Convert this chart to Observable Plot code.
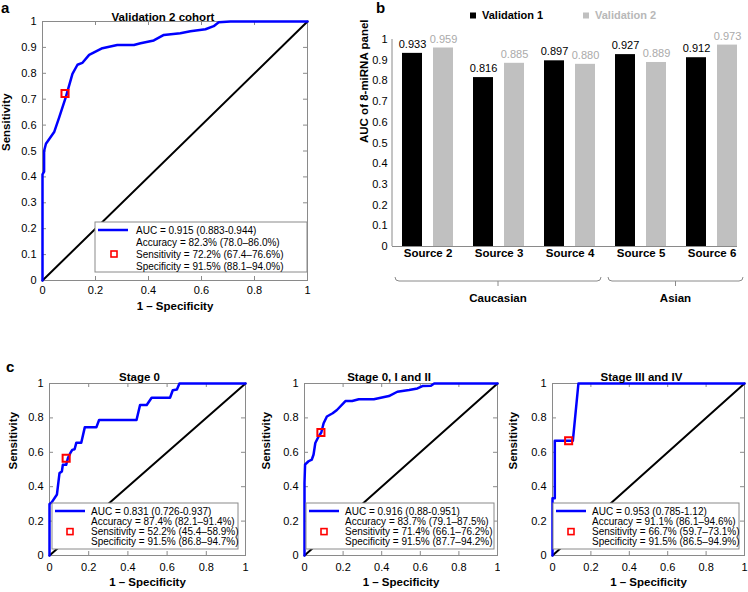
<!DOCTYPE html>
<html><head><meta charset="utf-8">
<script src="https://cdn.jsdelivr.net/npm/d3@7"></script>
<script src="https://cdn.jsdelivr.net/npm/@observablehq/plot@0.6"></script>
<style>
body{margin:0;background:#fff;}
#root{position:relative;width:748px;height:592px;overflow:hidden;background:#fff;font-family:"Liberation Sans",Arial,sans-serif;}
.panel{position:absolute;}
.panel svg{display:block;}
#tags{position:absolute;left:0;top:0;pointer-events:none;}
</style></head><body><div id="root"></div>
<script>
// ---------- DATA ----------
// Panel a: Validation 2 cohort ROC (1 - specificity, sensitivity)
const valid2FPR = [0, 0, 0.006, 0.006, 0.013, 0.044, 0.063, 0.088, 0.113, 0.132, 0.15, 0.176, 0.226, 0.282, 0.345, 0.37, 0.42, 0.458, 0.52, 0.558, 0.615, 0.646, 0.665, 0.709, 1];
const valid2TPR = [0, 0.41, 0.42, 0.50, 0.528, 0.573, 0.63, 0.708, 0.798, 0.833, 0.84, 0.871, 0.897, 0.909, 0.909, 0.916, 0.927, 0.948, 0.955, 0.962, 0.970, 0.982, 0.997, 1, 1];
const valid2Cut = [0.085, 0.722];
const valid2Legend = ["AUC = 0.915 (0.883-0.944)", "Accuracy = 82.3% (78.0–86.0%)", "Sensitivity = 72.2% (67.4–76.6%)", "Specificity = 91.5% (88.1–94.0%)"];

// Panel c: Stage 0
const stage0FPR = [0, 0, 0.012, 0.038, 0.051, 0.063, 0.068, 0.085, 0.094, 0.106, 0.116, 0.128, 0.137, 0.162, 0.18, 0.239, 0.253, 0.444, 0.462, 0.496, 0.521, 0.615, 0.629, 0.65, 0.663, 1];
const stage0TPR = [0, 0.30, 0.31, 0.355, 0.479, 0.488, 0.527, 0.527, 0.566, 0.595, 0.614, 0.618, 0.656, 0.656, 0.745, 0.745, 0.788, 0.788, 0.875, 0.875, 0.917, 0.917, 0.961, 0.965, 1, 1];
const stage0Cut = [0.085, 0.565];
const stage0Legend = ["AUC = 0.831 (0.726-0.937)", "Accuracy = 87.4% (82.1–91.4%)", "Sensitivity = 52.2% (45.4–58.9%)", "Specificity = 91.5% (86.8–94.7%)"];

// Panel c: Stage 0, I and II
const earlyFPR = [0, 0, 0.003, 0.021, 0.038, 0.047, 0.056, 0.073, 0.087, 0.099, 0.116, 0.146, 0.168, 0.212, 0.247, 0.281, 0.359, 0.4375, 0.481, 0.542, 0.585, 0.611, 0.655, 0.672, 1];
const earlyTPR = [0, 0.423, 0.529, 0.548, 0.558, 0.587, 0.654, 0.692, 0.715, 0.769, 0.808, 0.827, 0.846, 0.898, 0.898, 0.908, 0.908, 0.927, 0.952, 0.962, 0.971, 0.985, 0.987, 1, 1];
const earlyCut = [0.085, 0.715];
const earlyLegend = ["AUC = 0.916 (0.88-0.951)", "Accuracy = 83.7% (79.1–87.5%)", "Sensitivity = 71.4% (66.1–76.2%)", "Specificity = 91.5% (87.7–94.2%)"];

// Panel c: Stage III and IV
const lateFPR = [0, 0, 0.012, 0.012, 0.106, 0.135, 1];
const lateTPR = [0, 0.333, 0.333, 0.667, 0.667, 1, 1];
const lateCut = [0.084, 0.667];
const lateLegend = ["AUC = 0.953 (0.785-1.12)", "Accuracy = 91.1% (86.1–94.6%)", "Sensitivity = 66.7% (59.7–73.1%)", "Specificity = 91.5% (86.5–94.9%)"];

const diagonal = [0, 1];
const rocXTicks = [0, 0.2, 0.4, 0.6, 0.8, 1];
const rocYTicksA = [0, 0.1, 0.2, 0.3, 0.4, 0.5, 0.6, 0.7, 0.8, 0.9, 1];
const rocYTicksC = [0, 0.2, 0.4, 0.6, 0.8, 1];

// Panel b: AUC of 8-miRNA panel by source
const sources = ["Source 2", "Source 3", "Source 4", "Source 5", "Source 6"];
const series = ["Validation 1", "Validation 2"];
const aucValidation1 = [0.933, 0.816, 0.897, 0.927, 0.912];
const aucValidation2 = [0.959, 0.885, 0.880, 0.889, 0.973];
const barYTicks = [0, 0.1, 0.2, 0.3, 0.4, 0.5, 0.6, 0.7, 0.8, 0.9, 1];
const ethnicGroups = ["Caucasian", "Asian"];
const ethnicFrom = ["Source 2", "Source 5"];
const ethnicTo = ["Source 4", "Source 6"];

// ---------- DRAWING ----------
const FONT = "Liberation Sans, Arial, Helvetica, sans-serif";
const GREY = "#8a8a8a";
const fmt = d => String(d);
const root = document.getElementById("root");

function place(el, left, top) {
  const div = document.createElement("div");
  div.className = "panel";
  div.style.left = left + "px";
  div.style.top = top + "px";
  div.appendChild(el);
  root.appendChild(div);
  return el;
}

function rocPanel(o) {
  const pts = o.fpr.map((x, i) => ({x, y: o.tpr[i]}));
  const cut = [{x: o.cut[0], y: o.cut[1]}];
  const w = o.width - o.ml - o.mr, h = o.height - o.mt - o.mb;
  const svg = Plot.plot({
    width: o.width, height: o.height,
    marginLeft: o.ml, marginRight: o.mr, marginTop: o.mt, marginBottom: o.mb,
    style: {fontFamily: FONT, fontSize: "11px", color: "#000", background: "transparent"},
    x: {domain: [0, 1], ticks: rocXTicks, tickFormat: fmt, tickSize: 0, tickPadding: o.xPad, label: null},
    y: {domain: [0, 1], ticks: o.yTicks, tickFormat: fmt, tickSize: 0, tickPadding: 6, label: null},
    marks: [
      Plot.tickX(rocXTicks, {x: d => d, insetTop: h - 4, stroke: GREY}),
      Plot.tickX(rocXTicks, {x: d => d, insetBottom: h - 4, stroke: GREY}),
      Plot.tickY(o.yTicks, {y: d => d, insetRight: w - 4, stroke: GREY}),
      Plot.tickY(o.yTicks, {y: d => d, insetLeft: w - 4, stroke: GREY}),
      Plot.frame({stroke: GREY}),
      Plot.line(diagonal, {x: d => d, y: d => d, stroke: "#000", strokeWidth: 2}),
      Plot.line(pts, {x: "x", y: "y", stroke: "#0000ff", strokeWidth: 2.5}),
      Plot.dot(cut, {x: "x", y: "y", symbol: "square", r: 4, stroke: "#ff0000", strokeWidth: 2, fill: "none"}),
      Plot.text([o.title], {text: d => d, frameAnchor: "top", dy: o.titleDy, dx: o.titleDx, fontWeight: "bold", fontSize: 11.5}),
      Plot.text(["1 – Specificity"], {text: d => d, frameAnchor: "bottom", dy: o.xLabelDy, fontWeight: "bold", fontSize: 11.5}),
      Plot.text(["Sensitivity"], {text: d => d, frameAnchor: "left", dx: o.yLabelDx, rotate: -90, fontWeight: "bold", fontSize: 11.5})
    ]
  });
  // legend box
  const L = o.legendBox;
  const g = d3.select(svg).append("g").attr("font-family", FONT).attr("font-size", 10).attr("text-anchor", "start");
  g.append("rect").attr("x", L.x).attr("y", L.y).attr("width", L.w).attr("height", L.h)
    .attr("fill", "#fff").attr("stroke", GREY).attr("stroke-width", 1);
  g.append("line").attr("x1", L.x + 3).attr("x2", L.x + 33).attr("y1", L.y + 8).attr("y2", L.y + 8)
    .attr("stroke", "#0000ff").attr("stroke-width", 2.5);
  o.legend.forEach((t, i) => {
    g.append("text").attr("x", L.x + L.tx).attr("y", L.y + 8 + i * L.gap).attr("dy", "0.35em")
      .attr("text-anchor", "start").attr("fill", "#000").text(t);
  });
  g.append("rect").attr("x", L.x + L.sq - 3).attr("y", L.y + 8 + 2 * L.gap - 3).attr("width", 6).attr("height", 6)
    .attr("fill", "#fff").attr("stroke", "#ff0000").attr("stroke-width", 1.6);
  return svg;
}

// Panel a
place(rocPanel({
  fpr: valid2FPR, tpr: valid2TPR, cut: valid2Cut, legend: valid2Legend, title: "Validation 2 cohort",
  width: 330, height: 320, ml: 42, mr: 23, mt: 21, mb: 40, yTicks: rocYTicksA, xPad: 6,
  titleDy: -9, titleDx: -12, xLabelDy: 29, yLabelDx: -36,
  legendBox: {x: 95, y: 222, w: 212, h: 50, tx: 41, sq: 19, gap: 12}
}), 0, 0);

// Panel c
place(rocPanel({
  fpr: stage0FPR, tpr: stage0TPR, cut: stage0Cut, legend: stage0Legend, title: "Stage 0",
  width: 250, height: 252, ml: 49, mr: 5, mt: 43, mb: 37, yTicks: rocYTicksC, xPad: 8,
  titleDy: -11, titleDx: -8, xLabelDy: 30, yLabelDx: -36,
  legendBox: {x: 52, y: 163, w: 186, h: 46, tx: 39, sq: 18, gap: 10.3}
}), 0, 340);
place(rocPanel({
  fpr: earlyFPR, tpr: earlyTPR, cut: earlyCut, legend: earlyLegend, title: "Stage 0, I and II",
  width: 250, height: 252, ml: 54, mr: 3, mt: 43, mb: 37, yTicks: rocYTicksC, xPad: 8,
  titleDy: -11, titleDx: -12, xLabelDy: 30, yLabelDx: -38,
  legendBox: {x: 56, y: 163, w: 188, h: 46, tx: 39, sq: 18, gap: 10.3}
}), 250, 340);
place(rocPanel({
  fpr: lateFPR, tpr: lateTPR, cut: lateCut, legend: lateLegend, title: "Stage III and IV",
  width: 248, height: 252, ml: 52, mr: 4, mt: 43, mb: 37, yTicks: rocYTicksC, xPad: 8,
  titleDy: -11, titleDx: -7, xLabelDy: 30, yLabelDx: -39,
  legendBox: {x: 53, y: 163, w: 186, h: 46, tx: 39, sq: 18, gap: 10.3}
}), 500, 340);

// Panel b
const barRows = sources.flatMap((s, i) => [
  {source: s, series: series[0], value: aucValidation1[i]},
  {source: s, series: series[1], value: aucValidation2[i]}
]);
const rows1 = barRows.filter(d => d.series === series[0]);
const rows2 = barRows.filter(d => d.series === series[1]);
const B = {width: 390, height: 320, ml: 34, mr: 1, mt: 39, mb: 74};
const barChart = Plot.plot({
  width: B.width, height: B.height,
  marginLeft: B.ml, marginRight: B.mr, marginTop: B.mt, marginBottom: B.mb,
  style: {fontFamily: FONT, fontSize: "11px", color: "#000", background: "transparent"},
  x: {domain: sources, padding: 0, axis: null},
  y: {domain: [0, 1], ticks: barYTicks, tickFormat: fmt, tickSize: 0, tickPadding: 5, label: null},
  marks: [
    Plot.barY(rows1, {x: "source", y: "value", fill: "#000", insetLeft: 10, insetRight: 41}),
    Plot.barY(rows2, {x: "source", y: "value", fill: "#c0c0c0", insetLeft: 41, insetRight: 10}),
    Plot.text(rows1, {x: "source", y: "value", text: d => d.value.toFixed(3), dx: -15.5, dy: -9, fill: "#000", fontSize: 11}),
    Plot.text(rows2, {x: "source", y: "value", text: d => d.value.toFixed(3), dx: 15.5, dy: -9, fill: "#aaaaaa", fontSize: 11}),
    Plot.ruleY([0], {stroke: GREY, insetRight: 10}),
    Plot.text(sources, {x: d => d, text: d => d, frameAnchor: "bottom", dy: 10, fontWeight: "bold", fontSize: 11.5}),
    Plot.text(["AUC of 8-miRNA panel"], {text: d => d, frameAnchor: "left", dx: -28, rotate: -90, fontWeight: "bold", fontSize: 11.5})
  ]
});
place(barChart, 358, 0);
{
  const svg = d3.select(barChart);
  const xs = barChart.scale("x");
  const bw = xs.bandwidth;
  // y axis line
  svg.append("line").attr("x1", B.ml).attr("x2", B.ml).attr("y1", B.mt).attr("y2", B.height - B.mb)
    .attr("stroke", GREY).attr("stroke-width", 1);
  // legend
  const lg = svg.append("g").attr("font-family", FONT).attr("font-size", 11).attr("font-weight", "bold").attr("text-anchor", "start");
  [[series[0], "#000", "#000", 112], [series[1], "#c0c0c0", "#b8b8b8", 225]].forEach(([name, c, tc, x]) => {
    lg.append("rect").attr("x", x).attr("y", 12.5).attr("width", 6).attr("height", 6).attr("fill", c);
    lg.append("text").attr("x", x + 12).attr("y", 15.5).attr("dy", "0.35em").attr("text-anchor", "start").attr("fill", tc).text(name);
  });
  // braces
  const yb = 281;
  ethnicGroups.forEach((name, i) => {
    const x0 = xs.apply(ethnicFrom[i]) + 3;
    const x1 = xs.apply(ethnicTo[i]) + bw - 4;
    const xm = (x0 + x1) / 2;
    svg.append("path")
      .attr("d", `M${x0},${yb - 4} Q${x0},${yb} ${x0 + 4},${yb} H${x1 - 4} Q${x1},${yb} ${x1},${yb - 4} M${xm},${yb} V${yb + 5}`)
      .attr("fill", "none").attr("stroke", GREY).attr("stroke-width", 1);
    svg.append("text").attr("x", xm).attr("y", 298).attr("dy", "0.35em").attr("text-anchor", "middle")
      .attr("font-family", FONT).attr("font-size", 11.5).attr("font-weight", "bold").text(name);
  });
}

// panel tags
const tags = d3.select(root).append("svg").attr("id", "tags").attr("width", 748).attr("height", 592);
[["a", 1, 13], ["b", 376, 13], ["c", 6, 372]].forEach(([t, x, y]) => {
  tags.append("text").attr("x", x).attr("y", y).attr("font-family", FONT).attr("font-size", 15)
    .attr("font-weight", "bold").text(t);
});
</script>
</body></html>
